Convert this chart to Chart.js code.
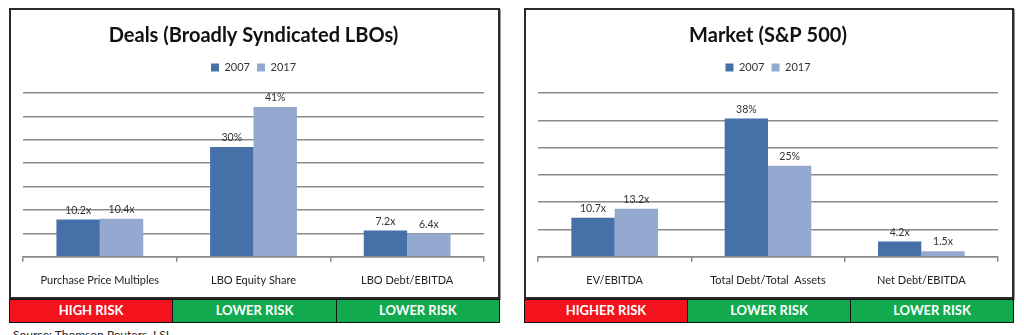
<!DOCTYPE html>
<html>
<head>
<meta charset="utf-8">
<script src="https://cdn.jsdelivr.net/npm/chart.js@4.4.1/dist/chart.umd.min.js"></script>
<style>
    body { margin: 0; width: 1024px; height: 335px; background: #fff; font-family: Lato, sans-serif; position: relative; overflow: hidden; }
    .painel { position: absolute; top: 8px; height: 291px; box-sizing: border-box; border: 2px solid #2a2a2a; box-shadow: 1px 1px 0 #999; background: #fff; }
    .painel canvas { display: block; }
    .risco { position: absolute; top: 299px; height: 24px; display: flex; box-sizing: border-box; border: 1.5px solid #111; }
    .risco div { flex: 1; color: #fff; font-weight: bold; font-size: 13px; text-align: center; line-height: 21px; border-left: 1.5px solid #111; }
    .risco div:first-child { border-left: none; }
    .fonte { position: absolute; left: 13px; top: 327px; font-size: 12px; color: #222; }
</style>
</head>
<body>

<div class="painel" style="left:9px; width:491px;"><canvas id="graficoDeals" width="487" height="287"></canvas></div>
<div class="painel" style="left:524px; width:490px;"><canvas id="graficoMercado" width="486" height="287"></canvas></div>

<div class="risco" id="riscoDeals" style="left:9px; width:491px;"></div>
<div class="risco" id="riscoMercado" style="left:524px; width:490px;"></div>

<div class="fonte">Source: Thomson Reuters, LSL</div>

<script>
const anos = ["2007", "2017"];

const dealsCategorias = ["Purchase Price Multiples", "LBO Equity Share", "LBO Debt/EBITDA"];
const deals2007 = [10.2, 30, 7.2];
const deals2017 = [10.4, 41, 6.4];
const dealsSufixos = ["x", "%", "x"];
const dealsRisco = ["HIGH RISK", "LOWER RISK", "LOWER RISK"];

const mercadoCategorias = ["EV/EBITDA", "Total Debt/Total  Assets", "Net Debt/EBITDA"];
const mercado2007 = [10.7, 38, 4.2];
const mercado2017 = [13.2, 25, 1.5];
const mercadoSufixos = ["x", "%", "x"];
const mercadoRisco = ["HIGHER RISK", "LOWER RISK", "LOWER RISK"];

const corRisco = { "HIGH RISK": "#f4121c", "HIGHER RISK": "#f4121c", "LOWER RISK": "#12aa4f" };
const cores = ["#4671a8", "#93a9cf"];

/* ------------------------------
   Rótulos em cima das barras
-------------------------------*/
const rotulosPlugin = {
    id: "rotulos",
    afterDatasetsDraw(chart) {
        const ctx = chart.ctx;
        const sufixos = chart.options.plugins.rotulos.sufixos;
        ctx.save();
        ctx.font = "10.5px Lato, sans-serif";
        ctx.fillStyle = "#333";
        ctx.textAlign = "center";
        ctx.textBaseline = "bottom";
        chart.data.datasets.forEach((ds, i) => {
            chart.getDatasetMeta(i).data.forEach((bar, j) => {
                const v = ds.data[j];
                const txt = sufixos[j] === "%" ? v + "%" : v.toFixed(1) + "x";
                ctx.fillText(txt, bar.x, bar.y - 4);
            });
        });
        ctx.restore();
    }
};

// espaço extra abaixo da legenda
const margemLegenda = {
    id: "margemLegenda",
    beforeInit(chart) {
        const fitOriginal = chart.legend.fit;
        chart.legend.fit = function () {
            fitOriginal.bind(chart.legend)();
            this.height += 10;
        };
    }
};

function montarGrafico(id, titulo, categorias, serie1, serie2, sufixos, passo, maximo) {
    new Chart(document.getElementById(id), {
        type: "bar",
        data: {
            labels: categorias,
            datasets: [
                { label: anos[0], data: serie1, backgroundColor: cores[0] },
                { label: anos[1], data: serie2, backgroundColor: cores[1] }
            ]
        },
        options: {
            responsive: false,
            animation: false,
            categoryPercentage: 0.565,
            barPercentage: 1.0,
            layout: { padding: { left: 12, right: 14, bottom: -2, top: 0 } },
            plugins: {
                title: {
                    display: true,
                    text: titulo,
                    color: "#111",
                    font: { family: "Lato", size: 20, weight: "bold" },
                    padding: { top: 14, bottom: 7 }
                },
                legend: {
                    display: true,
                    labels: {
                        boxWidth: 8, boxHeight: 8, color: "#333",
                        font: { family: "Lato", size: 11 },
                        padding: 7
                    }
                },
                tooltip: { enabled: false },
                rotulos: { sufixos: sufixos }
            },
            scales: {
                x: {
                    grid: { offset: true, drawOnChartArea: false, drawTicks: true, tickLength: 5, color: "#888", lineWidth: 1.5 },
                    border: { color: "#888", width: 1.5 },
                    ticks: { color: "#222", font: { family: "Lato", size: 11 }, padding: 12 }
                },
                y: {
                    min: 0,
                    max: maximo,
                    ticks: { display: false, stepSize: passo },
                    border: { display: false },
                    grid: { drawTicks: false, color: "#8a8a8a", lineWidth: 1.5 }
                }
            }
        },
        plugins: [rotulosPlugin, margemLegenda]
    });
}

function montarRisco(id, lista) {
    const el = document.getElementById(id);
    lista.forEach(t => {
        const d = document.createElement("div");
        d.textContent = t;
        d.style.background = corRisco[t];
        el.appendChild(d);
    });
}

montarGrafico("graficoDeals", "Deals (Broadly Syndicated LBOs)", dealsCategorias, deals2007, deals2017, dealsSufixos, 6.4, 44.8);
montarGrafico("graficoMercado", "Market (S&P 500)", mercadoCategorias, mercado2007, mercado2017, mercadoSufixos, 7.5, 45);
montarRisco("riscoDeals", dealsRisco);
montarRisco("riscoMercado", mercadoRisco);
</script>
</body>
</html>
